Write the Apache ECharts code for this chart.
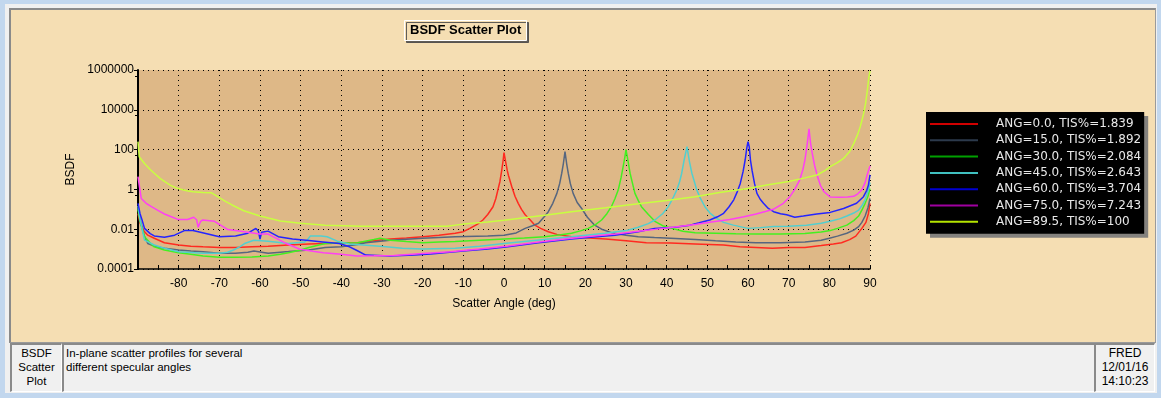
<!DOCTYPE html>
<html>
<head>
<meta charset="utf-8">
<title>BSDF Scatter Plot</title>
<script src="https://cdn.jsdelivr.net/npm/echarts@6/dist/echarts.min.js"></script>
<style>
  html, body { margin: 0; padding: 0; }
  body { width: 1161px; height: 398px; background: #c2d7ee; position: relative; overflow: hidden;
         font-family: "Liberation Sans", Arial, sans-serif; font-size: 12px; color: #000; }
  #win { position: absolute; left: 5px; top: 4px; width: 1152px; height: 389px; background: #f0f0f0; }
  #panel { position: absolute; left: 9px; top: 8px; width: 1144px; height: 332px; background: #f5deb3;
           border-top: 2px solid #8a8a8a; border-left: 2px solid #8a8a8a;
           border-right: 1px solid #9a9a9a; border-bottom: 1px solid #9a9a9a; }
  .cell { position: absolute; top: 343px; height: 45px; line-height: 14px; padding-top: 1px; background: #f0f0f0;
          border-top: 2px solid #8a8a8a; border-left: 2px solid #8a8a8a;
          border-right: 1px solid #ffffff; border-bottom: 1px solid #ffffff; }
  #cellName { left: 10px; width: 49px; text-align: center; font-size: 11.5px; }
  #cellDesc { left: 62px; width: 1028px; padding-left: 2px; font-size: 11.5px; }
  #cellStamp { left: 1094px; width: 58px; text-align: center; }
  #chart { position: absolute; left: 0; top: 0; width: 1161px; height: 398px; z-index: 2; }
</style>
</head>
<body>
<div id="win"></div>
<div id="panel"></div>
<div class="cell" id="cellName">BSDF<br>Scatter<br>Plot</div>
<div class="cell" id="cellDesc">In-plane scatter profiles for several<br>different specular angles</div>
<div class="cell" id="cellStamp">FRED<br>12/01/16<br>14:10:23</div>
<div id="chart"></div>
<script>
// series labels as shown in the legend
const seriesNames = [
  'ANG=0.0, TIS%=1.839',
  'ANG=15.0, TIS%=1.892',
  'ANG=30.0, TIS%=2.084',
  'ANG=45.0, TIS%=2.643',
  'ANG=60.0, TIS%=3.704',
  'ANG=75.0, TIS%=7.243',
  'ANG=89.5, TIS%=100'
];
const lineColors = ['#ff2a20', '#56667f', '#44f020', '#52cfcf', '#2424ff', '#ff40f4', '#c8ff40'];
const legendColors = ['#d00000', '#2c3a4c', '#00a000', '#40c0c0', '#0000d0', '#a000a0', '#b4e400'];

// y tick labels, one per 2 decades from 1e-4 to 1e6
const yTickLabels = ['0.0001', '0.01', '1', '100', '10000', '1000000'];

// [scatter angle (deg), BSDF]
const ang0 = [
  [-90, 0.06], [-89.5, 0.02], [-88.5, 0.008], [-87.6, 0.005], [-86, 0.0035], [-83.5, 0.0021], [-80, 0.0016],
  [-77, 0.0014], [-74, 0.0013], [-70, 0.0012], [-66, 0.0012], [-62, 0.0013], [-58, 0.0014], [-53, 0.0016],
  [-48, 0.0018], [-44, 0.0019], [-40, 0.002], [-36, 0.0021], [-32, 0.0026], [-28, 0.0032], [-24, 0.0036],
  [-20, 0.0042], [-16, 0.005], [-12, 0.0063], [-10, 0.0075], [-8.4, 0.011], [-6.5, 0.018], [-5.2, 0.029],
  [-4, 0.055], [-2.7, 0.135], [-2, 0.35], [-1.5, 0.95], [-1, 2.5], [-0.6, 8], [-0.2, 30], [0, 70],
  [0.4, 25], [0.8, 9], [1.1, 5], [1.9, 1.4], [2.7, 0.45], [3.5, 0.2], [4.3, 0.1], [5.2, 0.053], [6.4, 0.03],
  [7.6, 0.016], [9, 0.011], [10.9, 0.0075], [13, 0.0055], [16.6, 0.0042], [20, 0.0037], [25, 0.0032],
  [30, 0.0026], [35, 0.0021], [41, 0.002], [47, 0.0018], [54, 0.0016], [58, 0.0013], [62, 0.0012],
  [66, 0.0011], [70, 0.0012], [74, 0.0012], [78, 0.0015], [81, 0.0018], [83, 0.0021], [85, 0.003],
  [86.5, 0.0045], [88, 0.011], [89, 0.022], [89.6, 0.06], [90, 0.2]
];
const ang15 = [
  [-90, 0.12], [-89.5, 0.03], [-88.5, 0.005], [-87.6, 0.0019], [-85.5, 0.0013], [-83.5, 0.0011], [-80, 0.0009],
  [-77, 0.0008], [-74, 0.00074], [-70, 0.00062], [-66, 0.00062], [-63, 0.0007], [-61.5, 0.0008], [-58, 0.00062],
  [-55, 0.0007], [-53, 0.00075], [-48, 0.0009], [-44, 0.0012], [-40, 0.0013], [-36, 0.0017], [-34, 0.0021],
  [-28, 0.0028], [-20, 0.0035], [-12, 0.0042], [-4, 0.0046], [0, 0.005], [3, 0.0065], [5.2, 0.011], [7, 0.015],
  [8.5, 0.02], [10, 0.045], [10.9, 0.076], [12, 0.2], [13, 0.63], [13.7, 2], [14.2, 6.5], [14.6, 20], [15, 80],
  [15.4, 20], [15.8, 6.5], [16.3, 2], [17, 0.63], [18, 0.22], [19.1, 0.11], [20.5, 0.04], [22.3, 0.016],
  [24, 0.01], [26.4, 0.0067], [30, 0.005], [33, 0.0042], [37, 0.0038], [41, 0.0035], [47, 0.003], [52, 0.0026],
  [57, 0.0023], [62, 0.0021], [68, 0.0021], [74, 0.0023], [78, 0.0028], [80, 0.0035], [82, 0.0045],
  [84.3, 0.0063], [86, 0.009], [87.2, 0.0135], [88, 0.022], [88.8, 0.046], [89.5, 0.12], [90, 0.35]
];
const ang30 = [
  [-90, 0.1], [-89.5, 0.025], [-88.4, 0.0042], [-87, 0.002], [-86, 0.0013], [-83.5, 0.0009], [-80, 0.00066],
  [-77, 0.00055], [-74, 0.00045], [-70, 0.00039], [-66, 0.00039], [-62, 0.0004], [-58, 0.00045], [-55, 0.00055],
  [-53, 0.00066], [-50, 0.0009], [-48, 0.0012], [-44, 0.0019], [-40, 0.002], [-36, 0.0021], [-32, 0.003],
  [-30.5, 0.0035], [-28, 0.0028], [-24, 0.0024], [-20, 0.0021], [-16, 0.0023], [-12, 0.0024], [-6, 0.0028],
  [0, 0.0032], [5, 0.0036], [10, 0.0042], [14, 0.0052], [16.6, 0.0063], [19, 0.0085], [20.7, 0.011],
  [22.5, 0.017], [24, 0.029], [25.3, 0.06], [26.4, 0.135], [27.3, 0.35], [28.1, 0.95], [28.8, 4], [29.3, 14],
  [29.7, 40], [30, 100], [30.4, 35], [31, 6.5], [31.6, 2], [32.2, 0.63], [33, 0.28], [33.8, 0.135],
  [35.5, 0.055], [37.1, 0.025], [39, 0.015], [41.3, 0.011], [44, 0.0078], [47, 0.0067], [52, 0.0063],
  [57, 0.0059], [62, 0.0057], [68, 0.0058], [74, 0.006], [78, 0.0072], [80.2, 0.0085], [82, 0.011],
  [84.3, 0.016], [86, 0.027], [87.2, 0.046], [88, 0.09], [88.8, 0.2], [89.5, 0.45], [90, 1.1]
];
const ang45 = [
  [-90, 0.15], [-89.5, 0.03], [-88.4, 0.0028], [-86, 0.0016], [-83.5, 0.0011], [-80, 0.00074], [-77, 0.00068],
  [-74, 0.00062], [-70, 0.00062], [-68, 0.0007], [-66.5, 0.0009], [-65, 0.0013], [-63.8, 0.0019], [-61.5, 0.0028],
  [-58, 0.0025], [-53, 0.0019], [-49, 0.0023], [-48.4, 0.0028], [-47.6, 0.0046], [-45, 0.0045], [-43.5, 0.0042],
  [-41, 0.0025], [-38, 0.0018], [-33, 0.0015], [-29, 0.0013], [-25, 0.0011], [-20, 0.001], [-12, 0.0011],
  [-6, 0.0014], [0, 0.0019], [8, 0.0028], [16.6, 0.0042], [24.8, 0.0063], [30, 0.0085], [33, 0.0125],
  [35.5, 0.019], [37.1, 0.029], [39, 0.06], [40.4, 0.135], [41.5, 0.35], [42.5, 0.95], [43.2, 2.5],
  [43.7, 6.5], [44.3, 30], [45, 140], [45.6, 25], [46.2, 6.5], [46.8, 2.5], [47.4, 0.95], [48.3, 0.35],
  [49.4, 0.135], [50.8, 0.06], [52.3, 0.035], [54, 0.022], [56.4, 0.016], [60, 0.011], [63, 0.012],
  [66.3, 0.0135], [70, 0.014], [74.4, 0.016], [78, 0.02], [80.2, 0.025], [82.5, 0.033], [84.3, 0.046],
  [86, 0.065], [87.2, 0.092], [88, 0.15], [88.8, 0.3], [89.5, 0.8], [90, 2.2]
];
const ang60 = [
  [-90, 0.2], [-89.5, 0.06], [-89, 0.029], [-88.4, 0.011], [-87, 0.006], [-86, 0.0046], [-83.5, 0.0039],
  [-81, 0.005], [-78.6, 0.0085], [-76.5, 0.0085], [-73.6, 0.0063], [-70, 0.0042], [-66, 0.0045], [-63, 0.0063],
  [-61, 0.011], [-60.4, 0.008], [-60, 0.0032], [-59.6, 0.007], [-59.2, 0.0085], [-58, 0.008], [-55.5, 0.0042],
  [-52, 0.0032], [-48, 0.0027], [-44.6, 0.0023], [-40.5, 0.0019], [-38, 0.0013], [-36.4, 0.0009], [-34, 0.0005],
  [-28, 0.00045], [-22, 0.0005], [-18, 0.00057], [-10, 0.0008], [-4, 0.001], [1, 0.0013], [8, 0.002],
  [16.6, 0.0032], [22, 0.004], [27.3, 0.005], [33, 0.0075], [37, 0.011], [42, 0.0125], [45.7, 0.016],
  [48, 0.021], [50.6, 0.029], [52.5, 0.042], [54, 0.063], [55.3, 0.13], [56.5, 0.3], [57.4, 0.8], [58.1, 2],
  [58.8, 8], [59.3, 30], [59.7, 120], [60, 250], [60.3, 140], [60.6, 30], [61, 9], [61.6, 2], [62.2, 0.63],
  [63, 0.32], [63.8, 0.2], [65, 0.11], [66.3, 0.076], [68, 0.06], [69.5, 0.053], [71.5, 0.04], [73.6, 0.046],
  [76.9, 0.058], [80.2, 0.07], [83.5, 0.11], [86.7, 0.2], [88.4, 0.43], [89.2, 0.9], [89.6, 1.6], [90, 5.3]
];
const ang75 = [
  [-90, 4.4], [-89.6, 1.2], [-89.2, 0.35], [-88, 0.2], [-86.7, 0.135], [-85, 0.085], [-83.5, 0.058],
  [-81.5, 0.04], [-80.2, 0.031], [-77.8, 0.031], [-76.3, 0.04], [-75.6, 0.03], [-75.2, 0.0125], [-74.6, 0.025],
  [-74.1, 0.029], [-71.2, 0.025], [-69.5, 0.015], [-67.9, 0.0096], [-63.8, 0.0075], [-60.1, 0.0057],
  [-58, 0.0057], [-56.8, 0.0042], [-53.5, 0.0019], [-50.2, 0.00098], [-47, 0.00078], [-44.4, 0.00066],
  [-40, 0.00055], [-36.2, 0.00045], [-32, 0.00046], [-27, 0.00048], [-20, 0.0006], [-13.2, 0.00074],
  [-6, 0.001], [1, 0.00145], [8, 0.0022], [16.6, 0.0035], [22, 0.0045], [27.3, 0.0057], [32, 0.0075],
  [37.1, 0.0098], [42, 0.013], [47, 0.017], [51, 0.023], [55.5, 0.031], [59, 0.042], [62, 0.058],
  [64.5, 0.08], [66.2, 0.1], [68.7, 0.2], [70.3, 0.43], [71.5, 1], [72.7, 2.9], [73.5, 10], [74, 30],
  [74.5, 150], [75, 1100], [75.4, 200], [75.8, 65], [76.4, 15], [77.1, 4.4], [77.8, 1.6], [78.7, 0.76],
  [80.2, 0.42], [82.7, 0.4], [84.5, 0.42], [86, 0.45], [87, 0.6], [88, 0.95], [88.8, 2.2], [89.3, 5.3], [90, 15]
];
const ang895 = [
  [-90, 250], [-89.7, 44], [-88.4, 20], [-87, 10], [-86, 6.5], [-84.5, 3.5], [-83.5, 2.5], [-82, 1.6],
  [-80.2, 1.1], [-78, 0.85], [-76.5, 0.76], [-74, 0.7], [-72, 0.68], [-70.4, 0.43], [-68.5, 0.25],
  [-67, 0.17], [-64, 0.085], [-60, 0.046], [-55, 0.026], [-50, 0.02], [-44, 0.016], [-35, 0.014],
  [-25, 0.014], [-14, 0.014], [-10, 0.018], [-4, 0.023], [0, 0.028], [5, 0.038], [10, 0.05], [16.6, 0.076],
  [25, 0.12], [33, 0.19], [40, 0.28], [47, 0.43], [53, 0.7], [60, 1.1], [65, 1.7], [70, 2.5], [74, 3.8],
  [77, 5.3], [79, 9], [80.2, 14], [82, 22], [83.5, 36], [85, 80], [86, 200], [87, 600], [87.6, 1400],
  [88.4, 6000], [88.9, 20000], [89.3, 80000], [89.7, 400000], [90, 900000]
];
const seriesData = [ang0, ang15, ang30, ang45, ang60, ang75, ang895];

const font = '"Liberation Sans", Arial, sans-serif';
const chart = echarts.init(document.getElementById('chart'));

chart.setOption({
  animation: false,
  backgroundColor: 'transparent',
  textStyle: { fontFamily: font },
  title: {
    text: 'BSDF Scatter Plot',
    left: 404, top: 20,
    padding: [4, 6, 4, 6],
    backgroundColor: '#f5deb3',
    borderColor: '#ffffff', borderWidth: 1,
    shadowColor: 'rgba(70,70,70,0.85)', shadowOffsetX: 2, shadowOffsetY: 2, shadowBlur: 0,
    textStyle: { fontSize: 13, fontWeight: 'bold', color: '#000', fontFamily: font }
  },
  legend: {
    orient: 'vertical',
    left: 926, top: 112,
    padding: [5, 3, 5, 4],
    itemGap: 2.3,
    itemWidth: 48, itemHeight: 2,
    icon: 'rect',
    selectedMode: false,
    backgroundColor: '#000',
    shadowColor: 'rgba(120,120,120,0.9)', shadowOffsetX: 4, shadowOffsetY: 4, shadowBlur: 0,
    textStyle: { color: '#e8e8e8', fontSize: 12, lineHeight: 14, fontFamily: '"DejaVu Sans", sans-serif', padding: [0, 0, 0, 13] },
    data: seriesNames.map((name, i) => ({ name, itemStyle: { color: legendColors[i] } }))
  },
  grid: {
    left: 138, top: 70, width: 732, height: 199,
    show: true, backgroundColor: '#deb887', borderWidth: 0
  },
  xAxis: {
    type: 'value', min: -90, max: 90, interval: 10,
    name: 'Scatter Angle (deg)', nameLocation: 'middle', nameGap: 29,
    nameTextStyle: { fontSize: 12, color: '#000' },
    axisLine: { lineStyle: { color: '#000', width: 1.5 } },
    axisTick: { inside: true, length: 4, lineStyle: { color: '#000' } },
    minorTick: { show: true, splitNumber: 2, length: 4, lineStyle: { color: '#000' } },
    axisLabel: { margin: 9, fontSize: 12, color: '#000', formatter: v => (v === -90 ? '' : String(v)) },
    splitLine: { show: true, lineStyle: { color: '#000', type: [1, 4], width: 1 } }
  },
  yAxis: {
    type: 'log', logBase: 10, min: 1e-4, max: 1e6, interval: 2,
    name: 'BSDF', nameLocation: 'middle', nameGap: 43,
    nameTextStyle: { fontSize: 12, color: '#000' },
    axisLine: { show: true, onZero: false, lineStyle: { color: '#000', width: 2 } },
    axisTick: { show: true, length: 4, lineStyle: { color: '#000' } },
    minorTick: { show: true, splitNumber: 2, length: 3, lineStyle: { color: '#000' } },
    axisLabel: {
      margin: 4, fontSize: 12, color: '#000',
      formatter: v => yTickLabels[Math.round((Math.log10(v) + 4) / 2)]
    },
    splitLine: { show: true, lineStyle: { color: '#000', type: [1, 4], width: 1 } }
  },
  series: seriesNames.map((name, i) => ({
    name,
    type: 'line',
    data: seriesData[i],
    symbol: 'none',
    clip: true,
    lineStyle: { color: lineColors[i], width: 1.5 },
    itemStyle: { color: lineColors[i] }
  }))
});
</script>
</body>
</html>
